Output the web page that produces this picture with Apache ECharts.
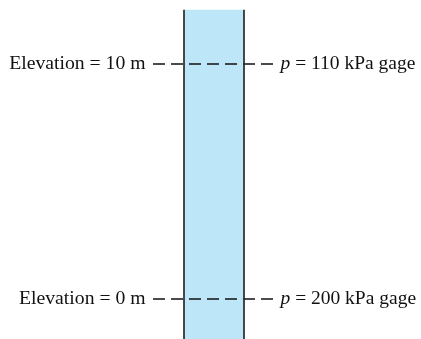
<!DOCTYPE html>
<html>
<head>
<meta charset="utf-8">
<script src="https://cdn.jsdelivr.net/npm/echarts@6/dist/echarts.min.js"></script>
<style>
  html, body { margin: 0; padding: 0; background: #fff; }
  #chart { width: 421px; height: 339px; }
</style>
</head>
<body>
<div id="chart"></div>
<script>
// 两个截面: 高程 (m) 和 压力 (kPa gage)
var elevations = [10, 0];
var pressures = [110, 200];
var elevLabels = ['Elevation = 10 m', 'Elevation = 0 m'];

// 管道与虚线的横向范围 (x 轴按像素单位)
var pipeLeft = 184, pipeRight = 244;
var pipeTop = 12.3, pipeBottom = -2;
var dashFrom = 153, dashTo = 273;

var chart = echarts.init(document.getElementById('chart'));
var font = "'Liberation Serif', 'Times New Roman', serif";
var ink = '#111';

var series = [];

// 管道填充
series.push({
	type: 'line',
	data: [],
	silent: true,
	markArea: {
		silent: true,
		itemStyle: { color: '#bde6f9', borderWidth: 0 },
		data: [[{ coord: [pipeLeft, pipeTop] }, { coord: [pipeRight, pipeBottom] }]]
	}
});

// 虚线 + 文字
elevations.forEach(function(e, i) {
	series.push({
		type: 'line',
		symbol: 'none',
		silent: true,
		z: 3,
		lineStyle: { color: '#111', width: 1.4, type: [12, 6] },
		data: [[dashFrom, e], [dashTo, e]]
	});
	series.push({
		type: 'scatter',
		symbolSize: 1,
		silent: true,
		itemStyle: { color: 'rgba(0,0,0,0)' },
		z: 5,
		data: [
			{
				value: [dashFrom, e],
				label: {
					show: true, position: 'left', distance: 7,
					formatter: elevLabels[i],
					fontFamily: font, fontSize: 19.7, color: ink, opacity: 1
				}
			},
			{
				value: [dashTo, e],
				label: {
					show: true, position: 'right', distance: 7,
					formatter: '{i|p} = ' + pressures[i] + ' kPa gage',
					fontFamily: font, fontSize: 19.5, color: ink, opacity: 1,
					rich: { i: { fontStyle: 'italic', fontFamily: font, fontSize: 19.5, color: ink } }
				}
			}
		]
	});
});

// 管壁
[pipeLeft, pipeRight].forEach(function(x) {
	series.push({
		type: 'line',
		symbol: 'none',
		silent: true,
		z: 4,
		lineStyle: { color: '#2a2a2a', width: 1.7 },
		data: [[x, pipeTop], [x, pipeBottom]]
	});
});

var option = {
	animation: false,
	grid: { left: 0, right: 0, top: 0, bottom: 0 },
	xAxis: { type: 'value', min: 0, max: 421, show: false },
	yAxis: { type: 'value', min: -1.7, max: 12.72, show: false },
	series: series
};

chart.setOption(option);
</script>
</body>
</html>
